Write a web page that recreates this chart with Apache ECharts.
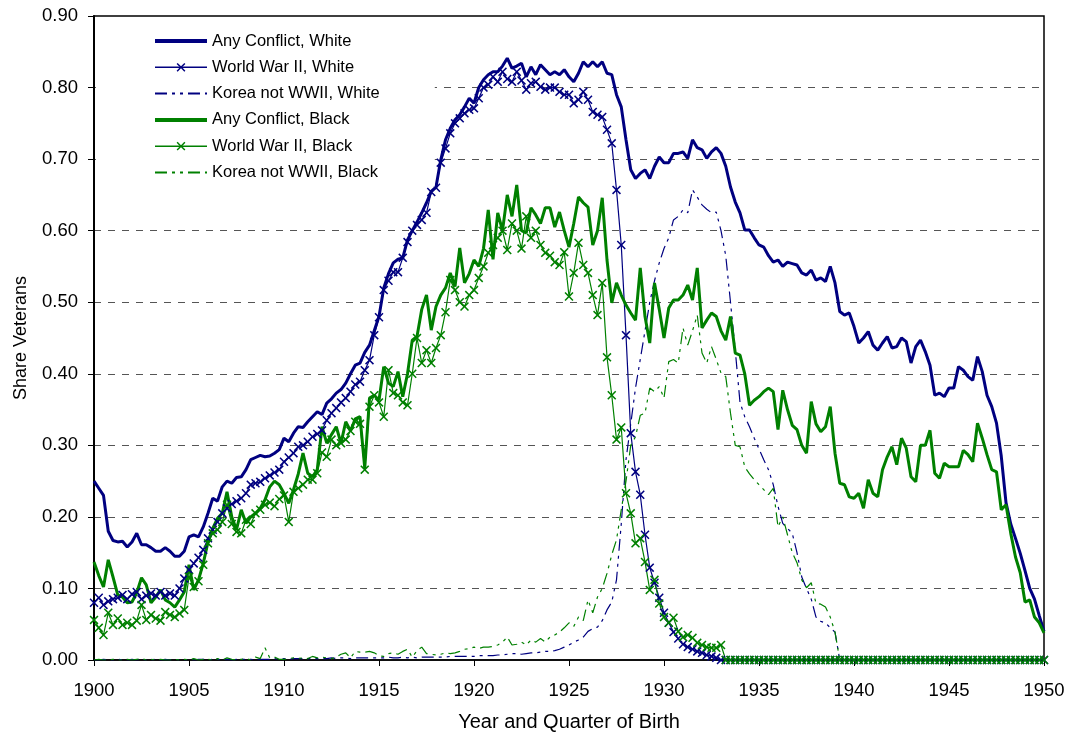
<!DOCTYPE html>
<html>
<head>
<meta charset="utf-8">
<script src="https://cdn.jsdelivr.net/npm/echarts@6/dist/echarts.min.js"></script>
<style>
html,body{margin:0;padding:0;background:#fff;}
#chart{width:1071px;height:739px;}
</style>
</head>
<body>
<div id="chart"></div>
<script>
// Quarter-of-birth categories 1900Q1 .. 1950Q1
const firstYear = 1900, lastYear = 1950;
const categories = [];
for (let y = firstYear; y <= lastYear; y++) {
  for (let q = 1; q <= 4; q++) {
    if (y === lastYear && q > 1) break;
    categories.push(y + 'Q' + q);
  }
}
const yTicks = [0, 0.1, 0.2, 0.3, 0.4, 0.5, 0.6, 0.7, 0.8, 0.9];

const seriesNames = [
  'Any Conflict, White', 'World War II, White', 'Korea not WWII, White',
  'Any Conflict, Black', 'World War II, Black', 'Korea not WWII, Black'
];

const anyConflictWhite = [
  .25,.24,.23,.18, .167,.165,.166,.158, .165,.177,.161,.161, .157,.152,.152,.157, .152,.145,.145,.152,
  .172,.175,.172,.186, .205,.226,.222,.242, .25,.247,.255,.256, .266,.28,.283,.286, .284,.285,.289,.294,
  .31,.305,.317,.326, .325,.333,.34,.347, .343,.359,.365,.373, .378,.387,.40,.412, .415,.43,.44,.46,
  .48,.52,.54,.555, .56,.562,.587,.60, .612,.625,.639,.655, .661,.699,.727,.743, .755,.762,.773,.785,
  .778,.80,.811,.818, .822,.822,.83,.841, .827,.83,.834,.815, .829,.818,.832,.825, .818,.822,.818,.825,
  .815,.808,.82,.836, .829,.836,.829,.836, .82,.818,.79,.773, .727,.685,.673,.68, .685,.673,.69,.703,
  .695,.695,.708,.708, .71,.701,.727,.716, .713,.701,.71,.716, .708,.69,.661,.64, .625,.601,.601,.59,
  .58,.577,.565,.556, .559,.55,.556,.554, .552,.541,.538,.545, .531,.534,.529,.55, .527,.487,.482,.485,
  .466,.443,.45,.459, .44,.433,.443,.452, .436,.438,.45,.445, .415,.438,.447,.431, .412,.37,.373,.368,
  .38,.38,.41,.405, .396,.391,.424,.403, .37,.354,.331,.285, .22,.19,.17,.149, .125,.10,.085,.062,
  .04
];

const wwiiWhite = [
  .080,.087,.077,.082, .085,.087,.091,.085, .092,.095,.085,.09, .093,.09,.095,.09, .093,.09,.10,.114,
  .126,.135,.143,.154, .17,.182,.193,.205, .212,.218,.222,.226, .233,.245,.247,.249, .254,.258,.262,.266,
  .277,.283,.289,.298, .30,.305,.312,.316, .321,.335,.345,.352, .36,.366,.375,.385, .389,.405,.419,.454,
  .479,.517,.53,.542, .542,.562,.584,.60, .608,.615,.625,.654, .66,.695,.715,.736, .75,.757,.764,.769,
  .771,.785,.80,.804, .815,.808,.822,.812, .808,.822,.81,.797, .806,.808,.801,.797, .80,.80,.794,.79,
  .79,.778,.783,.794, .783,.766,.762,.759, .741,.722,.657,.58, .454,.317,.263,.231, .175,.129,.108,.087,
  .066,.052,.039,.03, .022,.018,.015,.012, .01,.007,.005,.003, 0,0,0,0, 0,0,0,0,
  0,0,0,0, 0,0,0,0, 0,0,0,0, 0,0,0,0, 0,0,0,0,
  0,0,0,0, 0,0,0,0, 0,0,0,0, 0,0,0,0, 0,0,0,0,
  0,0,0,0, 0,0,0,0, 0,0,0,0, 0,0,0,0, 0,0,0,0,
  0
];

const koreaWhite = [
  0,0,.001,0, 0,.001,0,0, .001,0,.001,0, 0,.001,0,.001, 0,.001,0,0,
  .001,0,.001,.001, 0,.001,.001,0, .001,0,.001,.001, .001,.001,0,.001, .001,.001,.002,.001,
  .002,.001,.002,.002, .002,.002,.002,.002, .002,.002,.003,.002, .003,.003,.002,.003, .003,.003,.003,.003,
  .003,.003,.004,.003, .003,.004,.003,.004, .003,.004,.004,.004, .004,.004,.004,.005, .005,.005,.005,.005,
  .005,.006,.006,.006, .006,.007,.007,.008, .009,.009,.008,.009, .01,.01,.011,.012, .012,.013,.015,.018,
  .021,.025,.028,.032, .04,.044,.046,.055, .07,.081,.112,.19, .28,.33,.38,.42, .46,.50,.53,.555,
  .575,.59,.615,.62, .629,.625,.657,.647, .636,.63,.625,.626, .60,.565,.50,.433, .36,.34,.326,.31,
  .295,.28,.266,.245, .215,.191,.184,.177, .15,.116,.10,.085, .06,.054,.052,.045, .039,0,0,0,
  0,0,0,0, 0,0,0,0, 0,0,0,0, 0,0,0,0, 0,0,0,0,
  0,0,0,0, 0,0,0,0, 0,0,0,0, 0,0,0,0, 0,0,0,0,
  0
];

const anyConflictBlack = [
  .137,.118,.102,.14, .116,.091,.088,.08, .081,.094,.115,.105, .08,.088,.098,.084, .08,.074,.084,.095,
  .133,.098,.112,.135, .165,.184,.198,.205, .235,.20,.182,.21, .191,.20,.205,.212, .224,.242,.25,.245,
  .233,.219,.238,.26, .289,.261,.256,.266, .326,.303,.315,.326, .303,.333,.32,.337, .34,.268,.366,.37,
  .363,.41,.387,.382, .403,.368,.40,.447, .452,.49,.51,.461, .494,.51,.52,.541, .522,.576,.527,.54,
  .559,.55,.575,.629, .56,.625,.60,.65, .62,.664,.60,.597, .632,.622,.61,.632, .632,.605,.626,.60,
  .577,.61,.647,.639, .633,.58,.60,.646, .559,.499,.527,.51, .496,.485,.475,.548, .48,.443,.527,.49,
  .45,.492,.503,.503, .51,.524,.503,.548, .464,.475,.485,.48, .46,.447,.48,.429, .426,.40,.356,.363,
  .368,.375,.38,.375, .322,.377,.35,.328, .322,.30,.289,.361, .33,.319,.326,.354, .289,.247,.245,.228,
  .226,.233,.212,.252, .233,.228,.266,.284, .298,.273,.31,.296, .256,.249,.30,.30, .321,.261,.254,.275,
  .27,.27,.27,.293, .287,.277,.331,.31, .287,.266,.263,.21, .217,.177,.144,.122, .081,.084,.06,.052,
  .038
];

const wwiiBlack = [
  .056,.045,.035,.066, .049,.058,.049,.052, .049,.055,.077,.056, .063,.058,.055,.067, .063,.06,.065,.07,
  .116,.102,.11,.133, .163,.177,.182,.193, .217,.19,.179,.177, .196,.19,.205,.21, .217,.22,.215,.225,
  .23,.193,.235,.24, .245,.252,.252,.261, .29,.284,.308,.30, .303,.308,.32,.333, .33,.266,.354,.37,
  .36,.34,.405,.373, .37,.36,.356,.40, .45,.415,.433,.415, .436,.454,.486,.531, .517,.50,.494,.51,
  .517,.534,.55,.569, .58,.59,.60,.573, .61,.60,.575,.62, .59,.60,.58,.569, .565,.556,.552,.57,
  .508,.541,.583,.552, .541,.51,.482,.527, .423,.37,.308,.325, .233,.205,.163,.17, .137,.098,.112,.079,
  .06,.052,.059,.04, .032,.035,.031,.024, .021,.018,.017,.017, .021,0,0,0, 0,0,0,0,
  0,0,0,0, 0,0,0,0, 0,0,0,0, 0,0,0,0, 0,0,0,0,
  0,0,0,0, 0,0,0,0, 0,0,0,0, 0,0,0,0, 0,0,0,0,
  0,0,0,0, 0,0,0,0, 0,0,0,0, 0,0,0,0, 0,0,0,0,
  0
];

const koreaBlack = [
  0,.001,0,0, .001,0,0,.001, 0,.001,.002,0, .001,0,.001,0, 0,.001,0,.001,
  0,.002,0,.001, .001,0,.002,0, .003,.001,0,.001, .002,0,.004,.002, .017,.003,.004,.001,
  .001,.002,.003,.002, .003,.002,.005,.003, .004,.003,.002,.004, .008,.01,.003,.012, .011,.011,.012,.01,
  .006,.005,.009,.01, .008,.012,.015,.004, .013,.018,.009,.008, .007,.008,.01,.009, .01,.012,.015,.016,
  .018,.016,.018,.018, .019,.021,.025,.032, .021,.022,.025,.021, .028,.025,.03,.025, .032,.035,.039,.045,
  .052,.047,.06,.055, .084,.066,.088,.10, .121,.147,.168,.21, .25,.30,.312,.342, .345,.38,.375,.382,
  .366,.417,.42,.415, .464,.44,.46,.482, .429,.415,.438,.42, .401,.396,.345,.30, .298,.27,.26,.252,
  .245,.238,.231,.24, .186,.20,.175,.15, .136,.112,.101,.108, .079,.078,.074,.06, .039,0,0,0,
  0,0,0,0, 0,0,0,0, 0,0,0,0, 0,0,0,0, 0,0,0,0,
  0,0,0,0, 0,0,0,0, 0,0,0,0, 0,0,0,0, 0,0,0,0,
  0
];

const allData = [anyConflictWhite, wwiiWhite, koreaWhite, anyConflictBlack, wwiiBlack, koreaBlack];
allData.forEach((a, i) => {
  if (a.length !== categories.length) throw new Error(seriesNames[i] + ' has ' + a.length + ' values, expected ' + categories.length);
});

const NAVY = '#000080', GREEN = '#008000';
const XMARK = 'path://M0,1.2 L1.2,0 L5,3.8 L8.8,0 L10,1.2 L6.2,5 L10,8.8 L8.8,10 L5,6.2 L1.2,10 L0,8.8 L3.8,5 Z';
const DASHDOT = [12, 5, 3, 5, 3, 5];

function thick(name, data, color) {
  return { name, type: 'line', data, symbol: 'none', lineStyle: { color, width: 3 }, itemStyle: { color } };
}
function marked(name, data, color) {
  return { name, type: 'line', data, symbol: XMARK, symbolSize: 9, showSymbol: true, showAllSymbol: true,
           lineStyle: { color, width: 1.2 }, itemStyle: { color } };
}
function dashed(name, data, color) {
  return { name, type: 'line', data, symbol: 'none', lineStyle: { color, width: 1.2, type: DASHDOT }, itemStyle: { color } };
}

// legend entries: thick line / line + X / dash-dot line
const legendData = seriesNames.map((n, i) => {
  if (i % 3 === 0) return { name: n, itemStyle: { opacity: 0 }, lineStyle: { width: 4 } };
  if (i % 3 === 1) return { name: n, lineStyle: { width: 1.5 } };
  return { name: n, itemStyle: { opacity: 0 }, lineStyle: { width: 2 } };
});

const chart = echarts.init(document.getElementById('chart'), null, { renderer: 'canvas' });
const FONT = "'Liberation Sans', Arial, sans-serif";
chart.setOption({
  animation: false,
  textStyle: { fontFamily: FONT, color: '#000' },
  grid: { left: 94, right: 27, top: 16, bottom: 79, outerBoundsMode: 'none', containLabel: false,
          show: true, borderColor: '#000', borderWidth: 1.5, backgroundColor: 'transparent' },
  legend: {
    orient: 'vertical', left: 96, top: 17,
    padding: [15, 55, 5, 57],
    backgroundColor: '#fff',
    itemWidth: 52, itemHeight: 11, itemGap: 8.3,
    textStyle: { fontSize: 16.5, color: '#000', fontFamily: FONT, lineHeight: 18 },
    data: legendData
  },
  xAxis: {
    type: 'category', data: categories, boundaryGap: false,
    name: 'Year and Quarter of Birth', nameLocation: 'middle', nameGap: 52,
    nameTextStyle: { fontSize: 20, color: '#000', fontFamily: FONT },
    axisLine: { lineStyle: { color: '#000', width: 1.5 } },
    axisTick: { interval: 19, length: 6, lineStyle: { color: '#000', width: 1 } },
    axisLabel: { interval: 19, fontSize: 18.5, color: '#000', margin: 21, fontFamily: FONT,
                 formatter: v => v.slice(0, 4) },
    splitLine: { show: false }
  },
  yAxis: {
    type: 'value', min: yTicks[0], max: yTicks[yTicks.length - 1], interval: 0.1,
    name: 'Share Veterans', nameLocation: 'middle', nameGap: 64, nameRotate: 90,
    nameTextStyle: { fontSize: 18, color: '#000', fontFamily: FONT },
    axisLine: { show: true, lineStyle: { color: '#000', width: 2 } },
    axisTick: { show: true, length: 6, lineStyle: { color: '#000', width: 1 } },
    axisLabel: { fontSize: 18.5, color: '#000', margin: 16, fontFamily: FONT, formatter: v => v.toFixed(2) },
    splitLine: { show: true, showMinLine: false, showMaxLine: false, lineStyle: { color: '#555', width: 1, type: [7, 7] } }
  },
  series: [
    thick(seriesNames[0], anyConflictWhite, NAVY),
    marked(seriesNames[1], wwiiWhite, NAVY),
    dashed(seriesNames[2], koreaWhite, NAVY),
    thick(seriesNames[3], anyConflictBlack, GREEN),
    marked(seriesNames[4], wwiiBlack, GREEN),
    dashed(seriesNames[5], koreaBlack, GREEN)
  ]
});
</script>
</body>
</html>
